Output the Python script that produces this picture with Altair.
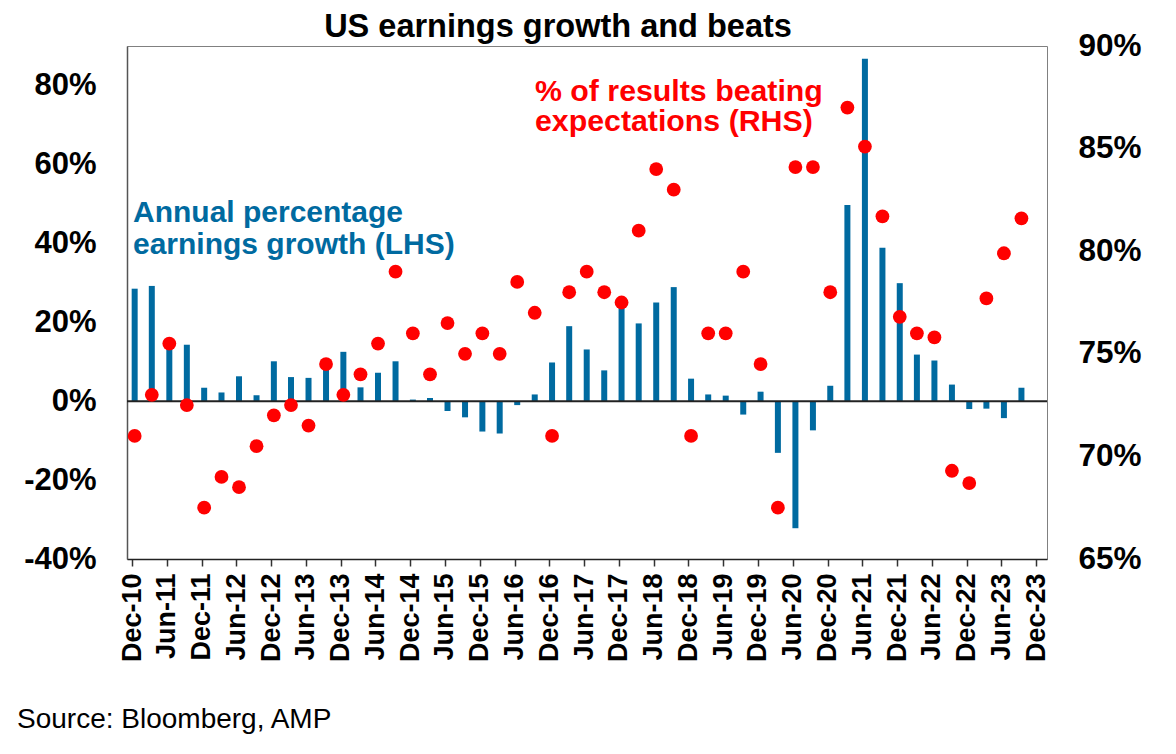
import altair as alt
import pandas as pd

# ---------------- data ----------------
dates = [
    "2010-12-15", "2011-03-15", "2011-06-15", "2011-09-15",
    "2011-12-15", "2012-03-15", "2012-06-15", "2012-09-15",
    "2012-12-15", "2013-03-15", "2013-06-15", "2013-09-15",
    "2013-12-15", "2014-03-15", "2014-06-15", "2014-09-15",
    "2014-12-15", "2015-03-15", "2015-06-15", "2015-09-15",
    "2015-12-15", "2016-03-15", "2016-06-15", "2016-09-15",
    "2016-12-15", "2017-03-15", "2017-06-15", "2017-09-15",
    "2017-12-15", "2018-03-15", "2018-06-15", "2018-09-15",
    "2018-12-15", "2019-03-15", "2019-06-15", "2019-09-15",
    "2019-12-15", "2020-03-15", "2020-06-15", "2020-09-15",
    "2020-12-15", "2021-03-15", "2021-06-15", "2021-09-15",
    "2021-12-15", "2022-03-15", "2022-06-15", "2022-09-15",
    "2022-12-15", "2023-03-15", "2023-06-15", "2023-09-15",
]

# Annual percentage earnings growth (LHS, %)
growth = [
    28.5, 29.2, 15.2, 14.3,
    3.4, 2.2, 6.3, 1.5,
    10.1, 6.1, 5.9, 8.0,
    12.5, 3.5, 7.2, 10.1,
    0.4, 0.8, -2.5, -4.1,
    -7.7, -8.2, -1.0, 1.7,
    9.8, 19.0, 13.1, 7.8,
    23.9, 19.7, 25.0, 28.9,
    5.7, 1.7, 1.4, -3.4,
    2.4, -13.1, -32.2, -7.4,
    3.9, 49.7, 86.8, 38.9,
    29.9, 11.8, 10.3, 4.2,
    -2.0, -1.9, -4.3, 3.4,
]

# % of results beating expectations (RHS, %)
beats = [
    71.0, 73.0, 75.5, 72.5,
    67.5, 69.0, 68.5, 70.5,
    72.0, 72.5, 71.5, 74.5,
    73.0, 74.0, 75.5, 79.0,
    76.0, 74.0, 76.5, 75.0,
    76.0, 75.0, 78.5, 77.0,
    71.0, 78.0, 79.0, 78.0,
    77.5, 81.0, 84.0, 83.0,
    71.0, 76.0, 76.0, 79.0,
    74.5, 67.5, 84.1, 84.1,
    78.0, 87.0, 85.1, 81.7,
    76.8, 76.0, 75.8, 69.3,
    68.7, 77.7, 79.9, 81.6,
]

# x-axis ticks (every six months) and their labels
tick_dates = [
    "2010-12-01", "2011-06-01", "2011-12-01", "2012-06-01", "2012-12-01",
    "2013-06-01", "2013-12-01", "2014-06-01", "2014-12-01", "2015-06-01",
    "2015-12-01", "2016-06-01", "2016-12-01", "2017-06-01", "2017-12-01",
    "2018-06-01", "2018-12-01", "2019-06-01", "2019-12-01", "2020-06-01",
    "2020-12-01", "2021-06-01", "2021-12-01", "2022-06-01", "2022-12-01",
    "2023-06-01", "2023-12-01",
]
tick_labels = [
    "Dec-10", "Jun-11", "Dec-11", "Jun-12", "Dec-12", "Jun-13", "Dec-13",
    "Jun-14", "Dec-14", "Jun-15", "Dec-15", "Jun-16", "Dec-16", "Jun-17",
    "Dec-17", "Jun-18", "Dec-18", "Jun-19", "Dec-19", "Jun-20", "Dec-20",
    "Jun-21", "Dec-21", "Jun-22", "Dec-22", "Jun-23", "Dec-23",
]
x_domain = ["2010-12-01", "2024-01-01"]
left_ticks = [-40, -20, 0, 20, 40, 60, 80]
right_ticks = [65, 70, 75, 80, 85, 90]

title_text = "US earnings growth and beats"
blue_label = ["Annual percentage", "earnings growth (LHS)"]
red_label = ["% of results beating", "expectations (RHS)"]
source_text = "Source: Bloomberg, AMP"

# ---------------- styling ----------------
FONT = "Liberation Sans"
BLUE = "#006AA0"
RED = "#FF0000"

df = pd.DataFrame({"date": dates, "growth": growth, "beats": beats})


def ms(s):
    return int(pd.Timestamp(s, tz="UTC").value // 10**6)


tick_ms = [ms(s) for s in tick_dates]
label_map = "{" + ",".join(f"'{t}':'{l}'" for t, l in zip(tick_ms, tick_labels)) + "}"

x_enc = alt.X(
    "date:T",
    scale=alt.Scale(type="utc", domain=[ms(x_domain[0]), ms(x_domain[1])], nice=False),
    axis=alt.Axis(
        orient="bottom",
        values=tick_ms,
        labelExpr=label_map + "[''+(+datum.value)]",
        labelAngle=-90,
        labelFont=FONT,
        labelFontSize=27,
        labelFontWeight="bold",
        labelColor="black",
        labelPadding=7,
        labelOverlap=False,
        labelSeparation=0,
        tickSize=7,
        tickWidth=1.5,
        tickColor="#333333",
        domainColor="#222222",
        domainWidth=1.5,
        grid=False,
        title=None,
    ),
)

bars = alt.Chart(df).mark_bar(size=6, color=BLUE).encode(
    x=x_enc,
    y=alt.Y(
        "growth:Q",
        scale=alt.Scale(domain=[-40, 90], nice=False, zero=False),
        axis=alt.Axis(
            orient="left",
            values=left_ticks,
            labelExpr="datum.value + '%'",
            ticks=False,
            grid=False,
            domainColor="#555555",
            domainWidth=1.5,
            labelFont=FONT,
            labelFontSize=31,
            labelFontWeight="bold",
            labelColor="black",
            labelPadding=31,
            title=None,
        ),
    ),
)

zero_rule = alt.Chart(pd.DataFrame({"z": [0]})).mark_rule(
    color="#222222", strokeWidth=2
).encode(y=alt.datum(0))

one = pd.DataFrame({"k": [0]})

blue_text = alt.Chart(one).mark_text(
    text=blue_label,
    align="left",
    baseline="alphabetic",
    font=FONT,
    fontSize=30,
    fontWeight="bold",
    color=BLUE,
    lineHeight=32,
).encode(x=alt.value(6), y=alt.value(175.5))

red_text = alt.Chart(one).mark_text(
    text=red_label,
    align="left",
    baseline="alphabetic",
    font=FONT,
    fontSize=30.3,
    fontWeight="bold",
    color=RED,
    lineHeight=30,
).encode(x=alt.value(408), y=alt.value(55))

title = alt.Chart(one).mark_text(
    text=title_text,
    align="center",
    baseline="alphabetic",
    font=FONT,
    fontSize=32.5,
    fontWeight="bold",
    color="black",
).encode(x=alt.value(431), y=alt.value(-9))

source = alt.Chart(one).mark_text(
    text=source_text,
    align="left",
    baseline="alphabetic",
    font=FONT,
    fontSize=28,
    color="black",
).encode(x=alt.value(-110), y=alt.value(682))

left_layer = alt.layer(bars, zero_rule, blue_text, red_text, title, source)

dots = alt.Chart(df).mark_circle(size=190, color=RED, opacity=1).encode(
    x=x_enc,
    y=alt.Y(
        "beats:Q",
        scale=alt.Scale(domain=[65, 90], nice=False, zero=False),
        axis=alt.Axis(
            orient="right",
            values=right_ticks,
            labelExpr="datum.value + '%'",
            ticks=False,
            domain=False,
            grid=False,
            labelFont=FONT,
            labelFontSize=31.5,
            labelFontWeight="bold",
            labelColor="black",
            labelPadding=31,
            title=None,
        ),
    ),
)

chart = (
    alt.layer(left_layer, dots)
    .resolve_scale(y="independent")
    .properties(
        width=920,
        height=513,
        autosize=alt.AutoSizeParams(type="none"),
        padding={"left": 119, "top": 38, "right": 110, "bottom": 180},
        background="white",
    )
    .configure_view(stroke="#808080", strokeWidth=1)
)

chart.save("out.html", embed_options={"renderer": "svg", "actions": False})
